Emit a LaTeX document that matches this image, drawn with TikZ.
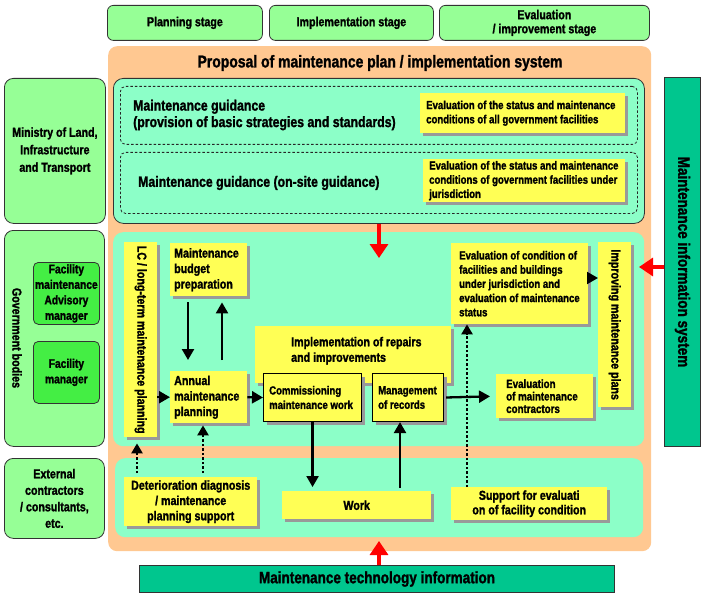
\documentclass[tikz,border=0pt]{standalone}
\usepackage{fontspec}
\usepackage{graphicx}
\setmainfont[FakeStretch=0.82,BoldFeatures={FakeBold=1.5}]{Liberation Sans}
\usetikzlibrary{arrows.meta,shadows}
\definecolor{grn}{HTML}{96FF96}
\definecolor{dgrn}{HTML}{44EE44}
\definecolor{org}{HTML}{FFC891}
\definecolor{tl}{HTML}{8CFFC8}
\definecolor{yel}{HTML}{FFFF55}
\definecolor{dtl}{HTML}{00C68E}
% box with centred text
\newcommand\bx[7]{\pgfmathsetmacro\bxw{#5-#3}\pgfmathsetmacro\bxh{#6-#4}%
\node[anchor=north west,inner xsep=2bp,inner ysep=0pt,minimum width=\bxw bp,minimum height=\bxh bp,align=center,#1] (#2) at (#3,#4) {#7};}
% box with left-aligned text (text set as a label at the west side)
\newcommand\lbx[8]{\pgfmathsetmacro\bxw{#5-#3}\pgfmathsetmacro\bxh{#6-#4}%
\node[anchor=north west,inner sep=0pt,minimum width=\bxw bp,minimum height=\bxh bp,#1,label={[anchor=west,align=left,inner sep=0pt,#7]west:{#8}}] (#2) at (#3,#4) {};}
\begin{document}
\begin{tikzpicture}[x=1bp,y=-1bp,
  every node/.style={font=\fontsize{13bp}{15.5bp}\selectfont\bfseries},
  stg/.style={draw=black!80,line width=0.8bp,fill=grn,rounded corners=6bp,font=\fontsize{13bp}{14bp}\selectfont\bfseries},
  lft/.style={draw=black!80,line width=0.8bp,fill=grn,rounded corners=9bp,font=\fontsize{13bp}{17.5bp}\selectfont\bfseries},
  sub/.style={draw=black!80,line width=0.8bp,fill=dgrn,rounded corners=5bp,inner xsep=0bp,font=\fontsize{12.5bp}{15.5bp}\selectfont\bfseries},
  orgbox/.style={fill=org,rounded corners=9bp},
  tlbox/.style={fill=tl,rounded corners=10bp},
  dsh/.style={draw=black!85,line width=0.8bp,dash pattern=on 2.5bp off 2bp,rounded corners=5bp},
  yb/.style={fill=yel,drop shadow={shadow xshift=3bp,shadow yshift=-3bp,fill=black!40,opacity=1}},
  ybb/.style={yb,draw=black,line width=1.1bp},
  evf/.style={font=\fontsize{11.7bp}{14.2bp}\selectfont\bfseries},
  mis/.style={draw=black!80,line width=1bp,fill=dtl,font=\fontsize{16.5bp}{18bp}\selectfont\bfseries},
  blk/.style={line width=2.3bp,-{Triangle[length=11bp,width=12bp]}},
  dotarr/.style={line width=2.5bp,dash pattern=on 2.5bp off 2bp,-{Triangle[length=10bp,width=11bp]}},
  redarr/.style={red,line width=3.2bp,-{Triangle[length=14bp,width=18bp]}}
]
\useasboundingbox (0,0) rectangle (704,595);
% stage header
\bx{stg}{S1}{107}{5}{262}{40}{Planning stage}
\bx{stg}{S2}{269}{5}{433}{40}{Implementation stage}
\bx{stg}{S3}{439}{5}{649}{40}{Evaluation\\/ improvement stage}
% containers
\bx{orgbox}{Org}{108}{46}{651}{551}{}
\node[font=\fontsize{17bp}{18bp}\selectfont\bfseries] (T) at (380,63) {Proposal of maintenance plan / implementation system};
\bx{tlbox,draw=black!80,line width=0.8bp}{Teal1}{113}{78}{644}{223}{}
\bx{dsh}{D1}{120}{86}{637}{144}{}
\bx{dsh}{D2}{120}{152}{637}{213}{}
\bx{tlbox}{Teal2}{113}{232}{644}{446}{}
\bx{tlbox}{Teal3}{115}{458}{643}{537}{}
% ministry row
\node[anchor=west,align=left,inner sep=0pt,font=\fontsize{15bp}{16.5bp}\selectfont\bfseries] (MG1) at (133,115) {Maintenance guidance\\(provision of basic strategies and standards)};
\node[anchor=west,align=left,inner sep=0pt,font=\fontsize{15bp}{16.5bp}\selectfont\bfseries] (MG2) at (138,183) {Maintenance guidance (on-site guidance)};
\lbx{yb}{E1}{420}{93}{625}{133}{evf,xshift=6bp}{Evaluation of the status and maintenance\\conditions of all government facilities}
\lbx{yb}{E2}{423}{159}{625}{202}{evf,xshift=6bp}{Evaluation of the status and maintenance\\conditions of government facilities under\\jurisdiction}
% left column
\bx{lft}{L1}{4}{78}{105}{223}{Ministry of Land,\\Infrastructure\\and Transport}
\bx{lft}{L2}{4}{230}{104}{446}{}
\node (GB) at (17,338) {\rotatebox{-90}{Government bodies}};
\bx{sub}{L2a}{33}{262}{99}{324}{Facility\\maintenance\\Advisory\\manager}
\bx{sub}{L2b}{33}{341}{99}{403}{Facility\\manager}
\bx{lft,font=\fontsize{13bp}{16.5bp}\selectfont\bfseries}{L3}{4}{458}{104}{538}{External\\contractors\\/ consultants,\\etc.}
% information boxes
\bx{mis}{MIS}{664}{77}{700}{446}{\rotatebox{-90}{Maintenance information system}}
\bx{mis}{MTI}{139}{565}{614}{592}{Maintenance technology information}
% government row
\bx{yb}{LC}{124}{242}{157}{437}{\rotatebox{-90}{LC / long-term maintenance planning}}
\lbx{yb}{Budget}{170}{243}{247}{296}{xshift=4bp}{Maintenance\\budget\\preparation}
\lbx{yb}{Annual}{170}{371}{247}{423}{xshift=4bp}{Annual\\maintenance\\planning}
\lbx{yb}{Impl}{255}{326}{451}{383}{xshift=36bp,yshift=4bp}{Implementation of repairs\\and improvements}
\lbx{ybb}{Comm}{263}{373}{361}{421}{xshift=6bp,font=\fontsize{11.7bp}{14.5bp}\selectfont\bfseries}{Commissioning\\maintenance work}
\lbx{ybb}{Mgmt}{372}{373}{443}{421}{xshift=6bp,font=\fontsize{11.7bp}{14.5bp}\selectfont\bfseries}{Management\\of records}
\lbx{yb}{EvalCond}{451}{243}{588}{324}{evf,xshift=8bp}{Evaluation of condition of\\facilities and buildings\\under jurisdiction and\\evaluation of maintenance\\status}
\bx{yb}{Improving}{598}{242}{631}{407}{\rotatebox{-90}{Improving maintenance plans}}
\lbx{yb}{EvalCont}{496}{374}{593}{418}{font=\fontsize{11.9bp}{12.5bp}\selectfont\bfseries,xshift=10bp}{Evaluation\\of maintenance\\contractors}
% external row
\bx{yb,font=\fontsize{13bp}{15.3bp}\selectfont\bfseries}{Det}{124}{477}{257}{526}{Deterioration diagnosis\\/ maintenance\\planning support}
\bx{yb}{Work}{282}{491}{431}{519}{Work}
\bx{yb,font=\fontsize{13bp}{14.5bp}\selectfont\bfseries}{Support}{451}{487}{607}{520}{Support for evaluati\\on of facility condition}
% helper coordinates
\coordinate (rx) at (379,0);
\coordinate (rtip) at (379,258);
\coordinate (ltip) at (639,267);
\coordinate (utip) at (379,541);
\coordinate (dx) at (467,0);
\coordinate (d1) at (137,0);
\coordinate (d2) at (203,0);
\coordinate (ey) at (0,278);
\coordinate (bd) at (188,0);
\coordinate (bu) at (222,0);
\coordinate (wx) at (400,0);
% black arrows
\draw[blk] (LC.east |- Annual.west) -- (Annual.west);
\draw[blk] (Annual.east) -- (Comm.west);
\draw[blk,shorten <=6bp,shorten >=11bp] (Budget.south -| bd) -- (Annual.north -| bd);
\draw[blk,shorten <=11bp,shorten >=6bp] (Annual.north -| bu) -- (Budget.south -| bu);
\draw[blk,shorten >=4bp] (Comm.south) -- (Comm.south |- Work.north);
\draw[blk,shorten <=3bp] (Work.north -| wx) -- (Mgmt.south -| wx);
\draw[blk,shorten <=2bp,shorten >=6bp] (Mgmt.east) -- (EvalCont.west);
\draw[blk,line width=2bp] (EvalCond.east |- ey) -- (Improving.west |- ey);
% dotted arrows
\draw[dotarr] (Support.north -| dx) -- (EvalCond.south -| dx);
\draw[dotarr,shorten <=4bp,shorten >=6bp] (Det.north -| d1) -- (LC.south -| d1);
\draw[dotarr,shorten <=4bp,shorten >=2bp] (Det.north -| d2) -- (Annual.south -| d2);
% red arrows
\draw[redarr] (Teal1.south -| rx) -- (rtip);
\draw[redarr] (MIS.west |- ltip) -- (ltip);
\draw[redarr] (MTI.north -| rx) -- (utip);
\end{tikzpicture}
\end{document}
